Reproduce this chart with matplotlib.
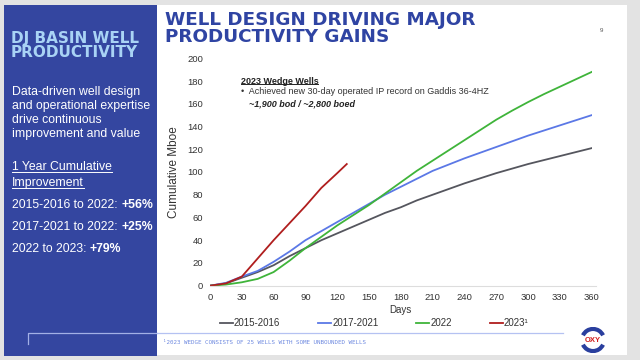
'''Well design driving major productivity gains - DJ Basin cumulative Mboe'''
import numpy as np
import matplotlib.pyplot as plt
from matplotlib.patches import Rectangle, Arc
from matplotlib.lines import Line2D

plt.rcParams['font.family'] = ['Liberation Sans', 'DejaVu Sans']

'''Data read off the chart'''
days = [0, 15, 30, 45, 60, 75, 90, 105, 120, 135, 150, 165, 180,
        195, 210, 225, 240, 255, 270, 285, 300, 315, 330, 345, 360]
mboe_2015_2016 = [0, 2, 7, 12, 18, 26, 33, 40, 46, 52, 58, 64, 69,
                  75, 80, 85, 90, 94.5, 99, 103, 107, 110.5, 114, 117.5, 121]
mboe_2017_2021 = [0, 2.5, 8, 13, 21, 30, 40, 48, 56, 64, 72, 80, 87,
                  94, 101, 106.5, 112, 117, 122, 127, 132, 136.5, 141, 145.5, 150]
mboe_2022 = [0, 1, 3, 6, 12, 22, 33, 43, 53, 62, 71, 81, 91,
             101, 110, 119, 128, 137, 146, 154, 161.5, 168.5, 175, 181.5, 188]
days_2023 = [0, 15, 30, 45, 60, 75, 90, 105, 120, 129]
mboe_2023 = [0, 2, 8, 24, 40, 55, 70, 86, 99, 107]

series_labels = ['2015-2016', '2017-2021', '2022', '2023\u00b9']
series_colors = ['#55565e', '#5b78e6', '#3fb43a', '#b01e1e']
x_ticks = np.arange(0, 361, 30)
y_ticks = np.arange(0, 201, 20)

improvement_labels = ['2015-2016 to 2022: ', '2017-2021 to 2022: ', '2022 to 2023: ']
improvement_values = ['+56%', '+25%', '+79%']

W, H = 640, 360
def fx(x): return x / W
def fy(y): return 1 - y / H

fig = plt.figure(figsize=(6.4, 3.6), dpi=100, facecolor='#e3e3e3')

'''Slide backgrounds'''
fig.patches.append(Rectangle((fx(157), fy(355)), fx(627) - fx(157), (355 - 5) / H,
                             transform=fig.transFigure, facecolor='white', edgecolor='none', zorder=-5))
fig.patches.append(Rectangle((fx(4), fy(356)), fx(157) - fx(4), (356 - 5) / H,
                             transform=fig.transFigure, facecolor='#3446a0', edgecolor='none', zorder=-5))

'''Left panel text'''
fig.text(fx(11), fy(38), 'DJ BASIN WELL', color='#a9d3f5', fontsize=11,
         family='DejaVu Sans', fontweight='bold', va='center', ha='left')
fig.text(fx(11), fy(52.5), 'PRODUCTIVITY', color='#a9d3f5', fontsize=11,
         family='DejaVu Sans', fontweight='bold', va='center', ha='left')
fig.text(fx(12), fy(113), 'Data-driven well design\nand operational expertise\ndrive continuous\nimprovement and value',
         color='white', fontsize=8.8, va='center', ha='left', linespacing=1.25)
t1 = fig.text(fx(12), fy(167), '1 Year Cumulative', color='white', fontsize=8.8, va='center', ha='left')
t2 = fig.text(fx(12), fy(183), 'Improvement', color='white', fontsize=8.8, va='center', ha='left')
imp_texts = []
for i, lab in enumerate(improvement_labels):
    imp_texts.append(fig.text(fx(12), fy(205 + 22 * i), lab, color='white', fontsize=8.8,
                              va='center', ha='left'))

'''Title and page number'''
fig.text(fx(165), fy(28.5), 'WELL DESIGN DRIVING MAJOR\nPRODUCTIVITY GAINS', color='#2f44a3',
         fontsize=13.2, family='DejaVu Sans', fontweight='bold', va='center', ha='left',
         linespacing=0.88)
fig.text(fx(601), fy(31), '9', color='#555555', fontsize=4.5, va='center', ha='center')

'''Chart axes'''
ax = fig.add_axes([fx(210), fy(285.7), (591.7 - 210) / W, (285.7 - 58.3) / H])
ax.patch.set_alpha(0)
ax.plot(days, mboe_2015_2016, color=series_colors[0], lw=1.3, label=series_labels[0])
ax.plot(days, mboe_2017_2021, color=series_colors[1], lw=1.3, label=series_labels[1])
ax.plot(days, mboe_2022, color=series_colors[2], lw=1.3, label=series_labels[2])
ax.plot(days_2023, mboe_2023, color=series_colors[3], lw=1.3, label=series_labels[3])
ax.set_xlim(0, 360)
ax.set_ylim(0, 200)
ax.set_xticks(x_ticks)
ax.set_yticks(y_ticks)
ax.tick_params(length=0, labelsize=6.8, labelcolor='#333333', pad=5)
for s in ['top', 'right', 'left']:
    ax.spines[s].set_visible(False)
ax.spines['bottom'].set_color('#dddddd')
ax.spines['bottom'].set_bounds(0, 364)
ax.set_xlabel('Days', fontsize=7, color='#333333', labelpad=2.5)
ax.set_ylabel('Cumulative Mboe', fontsize=8.5, color='#333333', labelpad=5)
ax.legend(loc='center', bbox_to_anchor=(0.43, -0.165), ncol=4, frameon=False, fontsize=7,
          handlelength=1.35, handletextpad=0.1, columnspacing=3.9, labelcolor='#333333')

'''Callout'''
t3 = ax.text(0.08, 0.9, '2023 Wedge Wells', transform=ax.transAxes, fontsize=6.5,
             fontweight='bold', color='#222222', va='center', ha='left')
ax.text(0.081, 0.852, '\u2022  Achieved new 30-day operated IP record on Gaddis 36-4HZ',
        transform=ax.transAxes, fontsize=6.5, color='#333333', va='center', ha='left')
ax.text(0.103, 0.8, '~1,900 bod / ~2,800 boed', transform=ax.transAxes, fontsize=6.5,
        fontweight='bold', fontstyle='italic', color='#222222', va='center', ha='left')

'''Underlines and bold values placed after measured text'''
fig.canvas.draw()
r = fig.canvas.get_renderer()
inv = fig.transFigure.inverted()
for t, c in [(t1, 'white'), (t2, 'white'), (t3, '#222222')]:
    bb = t.get_window_extent(r).transformed(inv)
    fig.lines.append(Line2D([bb.x0, bb.x1], [bb.y0 + 0.003, bb.y0 + 0.003], color=c, lw=0.7,
                            transform=fig.transFigure))
for t, val in zip(imp_texts, improvement_values):
    bb = t.get_window_extent(r).transformed(inv)
    fig.text(bb.x1, t.get_position()[1], val, color='white', fontsize=8.8, fontweight='bold',
             va='center', ha='left')

'''Footer'''
fig.lines.append(Line2D([fx(28), fx(28), fx(157)], [fy(344), fy(333), fy(333)],
                        color='#a3b0e6', lw=0.9, transform=fig.transFigure))
fig.lines.append(Line2D([fx(157), fx(563)], [fy(333), fy(333)],
                        color='#b5c2f2', lw=0.9, transform=fig.transFigure))
fig.text(fx(163), fy(342), '\u00b92023 WEDGE CONSISTS OF 25 WELLS WITH SOME UNBOUNDED WELLS',
         family='DejaVu Sans Mono', fontsize=4.2, color='#6f8ae0', va='center', ha='left')

'''OXY logo'''
lax = fig.add_axes([fx(580), fy(353), 26 / W, 26 / H])
lax.set_xlim(-1, 1)
lax.set_ylim(-1, 1)
lax.set_aspect('equal')
lax.axis('off')
lax.add_patch(Arc((0, 0), 1.7, 1.7, theta1=25, theta2=155, color='#2a3f9e', lw=3))
lax.add_patch(Arc((0, 0), 1.7, 1.7, theta1=205, theta2=335, color='#2a3f9e', lw=3))
lax.text(0, 0, 'OXY', color='#d01c1c', fontsize=5.5, fontweight='bold', ha='center', va='center')

plt.savefig('out.png', dpi=100, facecolor=fig.get_facecolor())
